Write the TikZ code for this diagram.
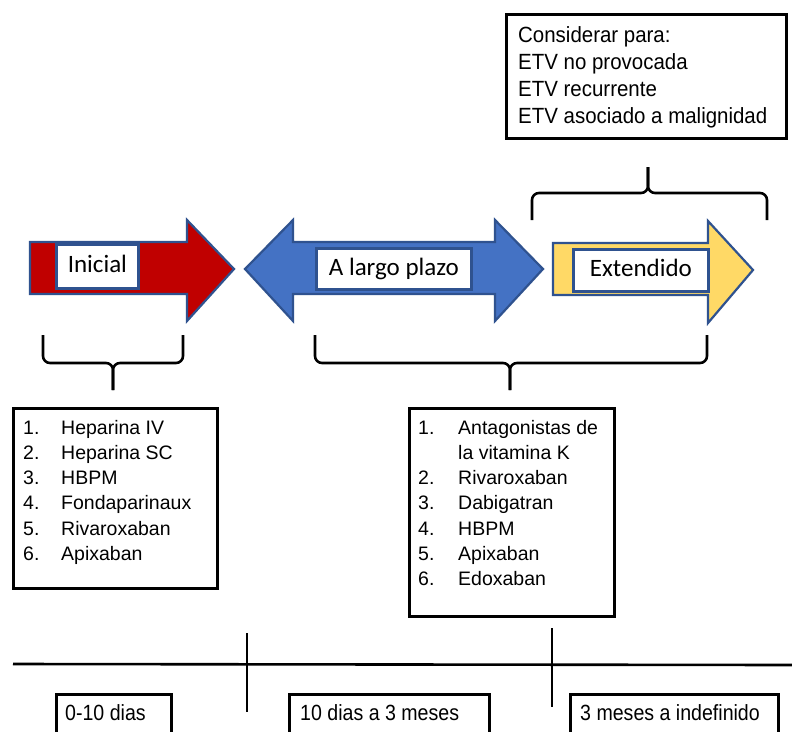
\documentclass[tikz,border=0pt]{standalone}
\usepackage{fontspec}
\setmainfont{Liberation Sans}
\newfontfamily\calib{Carlito}
\newfontfamily\narrowsans[FakeStretch=0.89]{Liberation Sans}
\newfontfamily\notesans[FakeStretch=0.93]{Liberation Sans}

\definecolor{phasered}{HTML}{C00000}
\definecolor{phaseblue}{HTML}{4472C4}
\definecolor{phaseyellow}{HTML}{FFD966}
\definecolor{edgeblue}{HTML}{2F528F}

\tikzset{
  arrowshape/.style={draw=edgeblue, line width=2.2pt, line join=miter},
  labelbox/.style={draw=edgeblue, fill=white, line width=2.8pt, inner sep=0pt,
    anchor=north west, text height=18pt, text depth=5pt,
    font=\calib\fontsize{25}{30}\selectfont},
  blackbox/.style={draw=black, fill=white, line width=2.6pt, inner sep=0pt, anchor=north west},
  bracepath/.style={draw=black, line width=2.6pt, rounded corners=7pt},
  listtext/.style={inner sep=0pt, anchor=base west, align=left,
    font=\fontsize{19.5}{25.3}\selectfont},
  notetext/.style={inner sep=0pt, anchor=base west, align=left,
    font=\notesans\fontsize{22}{26.8}\selectfont},
  periodtext/.style={inner sep=0pt, anchor=base west,
    font=\narrowsans\fontsize{22}{26}\selectfont},
  timeline/.style={draw=black, line width=2.6pt},
}

\begin{document}
\begin{tikzpicture}[x=1pt,y=-1pt]
\clip (0,0) rectangle (792,731);
\fill[white] (0,0) rectangle (792,731);

% ---- phase arrows ----
% initial phase (red)
\path[arrowshape, fill=phasered]
  (30,242) -- (187,242) -- (187,220) -- (234,269) -- (187,321) -- (187,294) -- (30,294) -- cycle;
\node[labelbox, minimum width=82pt, minimum height=44pt] (inicial) at (55,243) {Inicial};

% long-term phase (blue, double headed)
\path[arrowshape, fill=phaseblue]
  (245,269) -- (293,220) -- (293,242) -- (495,242) -- (495,220) -- (543,269)
  -- (495,321) -- (495,294) -- (293,294) -- (293,321) -- cycle;
\node[labelbox, minimum width=155pt, minimum height=41pt] (largo) at (315,247) {A largo plazo};

% extended phase (yellow)
\path[arrowshape, fill=phaseyellow]
  (553,243) -- (708,243) -- (708,221) -- (753,270) -- (708,323) -- (708,295) -- (553,295) -- cycle;
\node[labelbox, minimum width=135pt, minimum height=42pt] (extendido) at (572,248) {Extendido};

% ---- note box for extended therapy ----
\node[blackbox, minimum width=280pt, minimum height=124pt] (notebox) at (505,13) {};
\node[notetext] (notetxt) at (518,42.7) {%
  \begin{tabular}[t]{@{}l@{}}
  Considerar para:\\
  ETV no provocada\\
  ETV recurrente\\
  ETV asociado a malignidad
  \end{tabular}};

% ---- braces ----
\coordinate (topL) at (532,220);
\coordinate (topR) at (767,220);
\coordinate (topTip) at (648,167);
\draw[bracepath] (topL) -- (532,193) -- (648,193) -- (topTip);
\draw[bracepath] (topR) -- (767,193) -- (648,193) -- (topTip);

\coordinate (iniL) at (43,335);
\coordinate (iniR) at (183,335);
\coordinate (iniTip) at (113,390);
\draw[bracepath] (iniL) -- (43,363) -- (113,363) -- (iniTip);
\draw[bracepath] (iniR) -- (183,363) -- (113,363) -- (iniTip);

\coordinate (lgL) at (315,335);
\coordinate (lgR) at (707,335);
\coordinate (lgTip) at (510,390);
\draw[bracepath] (lgL) -- (315,363) -- (510,363) -- (lgTip);
\draw[bracepath] (lgR) -- (707,363) -- (510,363) -- (lgTip);

% ---- drug lists ----
\node[blackbox, minimum width=204pt, minimum height=180pt] (inibox) at (12,407) {};
\node[listtext] (inilist) at (23,434) {%
  \begin{tabular}[t]{@{}p{38pt}@{}l@{}}
  1. & Heparina IV\\
  2. & Heparina SC\\
  3. & HBPM\\
  4. & Fondaparinaux\\
  5. & Rivaroxaban\\
  6. & Apixaban
  \end{tabular}};

\node[blackbox, minimum width=205pt, minimum height=208pt] (lgbox) at (408,407) {};
\node[listtext] (lglist) at (418,434) {%
  \begin{tabular}[t]{@{}p{40pt}@{}l@{}}
  1. & Antagonistas de\\
     & la vitamina K\\
  2. & Rivaroxaban\\
  3. & Dabigatran\\
  4. & HBPM\\
  5. & Apixaban\\
  6. & Edoxaban
  \end{tabular}};

% ---- time axis ----
\coordinate (axisL) at (13,664);
\coordinate (axisR) at (792,665);
\draw[timeline] (axisL) -- (axisR);
\coordinate (t1a) at (247,633);
\coordinate (t1b) at (247,712);
\coordinate (t2a) at (552,628);
\coordinate (t2b) at (552,707);
\draw[timeline] (t1a) -- (t1b);
\draw[timeline] (t2a) -- (t2b);

\node[blackbox, minimum width=115pt, minimum height=50pt] (p1box) at (55,693) {};
\node[periodtext] (p1) at (65,720) {0-10 dias};
\node[blackbox, minimum width=200pt, minimum height=50pt] (p2box) at (288,693) {};
\node[periodtext] (p2) at (300,720) {10 dias a 3 meses};
\node[blackbox, minimum width=208pt, minimum height=50pt] (p3box) at (569,693) {};
\node[periodtext] (p3) at (580,720) {3 meses a indefinido};
\end{tikzpicture}
\end{document}
